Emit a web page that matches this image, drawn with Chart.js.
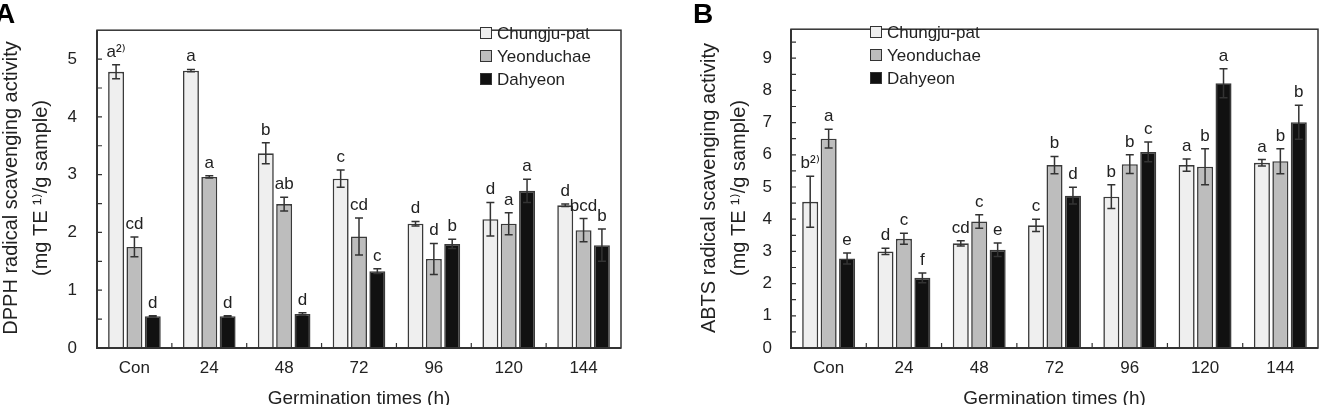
<!DOCTYPE html>
<html>
<head>
<meta charset="utf-8">
<script src="https://cdn.jsdelivr.net/npm/chart.js@4.4.0/dist/chart.umd.min.js"></script>
<style>
body { margin: 0; background: #fff; }
#wrap { position: relative; width: 1327px; height: 405px; overflow: hidden; }
.pane { position: absolute; top: 0; height: 405px; }
</style>
</head>
<body>
<div id="wrap">
  <div class="pane" style="left:0;width:663px"><canvas id="chartA"></canvas></div>
  <div class="pane" style="left:663px;width:664px"><canvas id="chartB"></canvas></div>
</div>
<script>
var horas = ['Con', '24', '48', '72', '96', '120', '144'];
var variedades = ['Chungju-pat', 'Yeonduchae', 'Dahyeon'];

// A - DPPH
var dpphChungju = [4.78, 4.80, 3.37, 2.93, 2.15, 2.23, 2.47];
var dpphChungjuErr = [0.12, 0.02, 0.18, 0.15, 0.04, 0.29, 0.02];
var dpphYeon = [1.75, 2.96, 2.49, 1.93, 1.54, 2.15, 2.04];
var dpphYeonErr = [0.17, 0.02, 0.12, 0.32, 0.27, 0.19, 0.20];
var dpphDah = [0.55, 0.55, 0.59, 1.33, 1.80, 2.72, 1.78];
var dpphDahErr = [0.01, 0.01, 0.02, 0.04, 0.08, 0.20, 0.28];
var dpphLetrasChungju = ['a²⁾', 'a', 'b', 'c', 'd', 'd', 'd'];
var dpphLetrasYeon = ['cd', 'a', 'ab', 'cd', 'd', 'a', 'bcd'];
var dpphLetrasDah = ['d', 'd', 'd', 'c', 'b', 'a', 'b'];
var dpphTicks = [0, 1, 2, 3, 4, 5];

// B - ABTS
var abtsChungju = [4.54, 3.00, 3.25, 3.81, 4.70, 5.68, 5.75];
var abtsChungjuErr = [0.79, 0.10, 0.08, 0.19, 0.37, 0.19, 0.10];
var abtsYeon = [6.50, 3.39, 3.93, 5.68, 5.71, 5.63, 5.80];
var abtsYeonErr = [0.29, 0.17, 0.21, 0.27, 0.29, 0.56, 0.39];
var abtsDah = [2.78, 2.18, 3.05, 4.73, 6.09, 8.22, 7.01];
var abtsDahErr = [0.17, 0.15, 0.21, 0.26, 0.31, 0.45, 0.53];
var abtsLetrasChungju = ['b²⁾', 'd', 'cd', 'c', 'b', 'a', 'a'];
var abtsLetrasYeon = ['a', 'c', 'c', 'b', 'b', 'b', 'b'];
var abtsLetrasDah = ['e', 'f', 'e', 'd', 'c', 'a', 'b'];
var abtsTicks = [0, 1, 2, 3, 4, 5, 6, 7, 8, 9];

var rellenos = ['#efefef', '#bdbdbd', '#111111'];
var fuente = "'Liberation Sans', Arial, 'DejaVu Sans', sans-serif";
var tinta = '#222';

// dibuja barras de error, letras, marco, leyenda y titulos
var extras = {
    id: 'extras',
    afterDraw: function (chart) {
        var c = chart.options.plugins.extras;
        var ctx = chart.ctx;
        var area = chart.chartArea;
        var ys = chart.scales.y;
        var xs = chart.scales.x;
        ctx.save();

        // marco
        ctx.strokeStyle = '#333';
        ctx.lineWidth = 1.5;
        ctx.strokeRect(area.left, area.top, area.right - area.left, area.bottom - area.top);
        ctx.lineWidth = 2;
        ctx.beginPath();
        ctx.moveTo(area.left, area.top);
        ctx.lineTo(area.left, area.bottom);
        ctx.lineTo(area.right, area.bottom);
        ctx.stroke();

        // marcas hacia adentro
        ctx.lineWidth = 1.2;
        ctx.beginPath();
        for (var v = 0; v < ys.max; v += 0.5) {
            var py = ys.getPixelForValue(v);
            ctx.moveTo(area.left, py);
            ctx.lineTo(area.left + 5, py);
        }
        for (var k = 1; k < horas.length; k++) {
            var px = (xs.getPixelForValue(k - 1) + xs.getPixelForValue(k)) / 2;
            ctx.moveTo(px, area.bottom);
            ctx.lineTo(px, area.bottom - 5);
        }
        ctx.stroke();

        // barras de error y letras
        ctx.font = '17px ' + fuente;
        ctx.textAlign = 'center';
        ctx.textBaseline = 'alphabetic';
        chart.data.datasets.forEach(function (ds, i) {
            var meta = chart.getDatasetMeta(i);
            meta.data.forEach(function (bar, j) {
                var yTop = ys.getPixelForValue(ds.data[j] + c.errores[i][j]);
                var yBot = ys.getPixelForValue(ds.data[j] - c.errores[i][j]);
                ctx.strokeStyle = '#333';
                ctx.lineWidth = 1.5;
                ctx.beginPath();
                ctx.moveTo(bar.x, yTop);
                ctx.lineTo(bar.x, yBot);
                ctx.moveTo(bar.x - 4, yTop);
                ctx.lineTo(bar.x + 4, yTop);
                ctx.moveTo(bar.x - 4, yBot);
                ctx.lineTo(bar.x + 4, yBot);
                ctx.stroke();
                ctx.fillStyle = tinta;
                ctx.fillText(c.letras[i][j], bar.x, yTop - 8);
            });
        });

        // leyenda
        ctx.font = '17px ' + fuente;
        ctx.textAlign = 'left';
        ctx.textBaseline = 'middle';
        variedades.forEach(function (nombre, i) {
            var ly = c.leyendaY + i * 23;
            ctx.fillStyle = rellenos[i];
            ctx.fillRect(c.leyendaX, ly - 6, 12, 12);
            ctx.strokeStyle = '#333';
            ctx.lineWidth = 1;
            ctx.strokeRect(c.leyendaX + 0.5, ly - 5.5, 11, 11);
            ctx.fillStyle = tinta;
            ctx.fillText(nombre, c.leyendaX + 17, ly + 1);
        });

        // titulos de ejes
        ctx.font = '19px ' + fuente;
        ctx.textAlign = 'center';
        ctx.textBaseline = 'alphabetic';
        ctx.fillStyle = tinta;
        ctx.fillText('Germination times (h)', (area.left + area.right) / 2, 404);
        ctx.font = '20px ' + fuente;
        ctx.save();
        ctx.translate(c.tituloX, 188);
        ctx.rotate(-Math.PI / 2);
        ctx.fillText(c.tituloY[0], 0, 0);
        ctx.fillText(c.tituloY[1], 0, 30);
        ctx.restore();

        // letra del panel
        ctx.font = 'bold 28px ' + fuente;
        ctx.textAlign = 'left';
        ctx.fillStyle = '#000';
        ctx.fillText(c.panel, c.panelX, 23);

        ctx.restore();
    }
};

function crearGrafica(id, series, errores, letras, ticks, maxY, cfg) {
    var datasets = [];
    for (var i = 0; i < series.length; i++) {
        datasets.push({
            label: variedades[i],
            data: series[i],
            backgroundColor: rellenos[i],
            borderColor: '#3a3a3a',
            borderWidth: 1.6,
            categoryPercentage: 0.735,
            barPercentage: 0.87
        });
    }
    return new Chart(document.getElementById(id).getContext('2d'), {
        type: 'bar',
        data: { labels: horas, datasets: datasets },
        options: {
            responsive: true,
            maintainAspectRatio: false,
            animation: false,
            layout: { padding: { top: 9, right: cfg.derecha, left: 0, bottom: 0 } },
            scales: {
                x: {
                    grid: { display: false, drawTicks: false },
                    border: { display: false },
                    ticks: { color: tinta, font: { family: fuente, size: 17 }, padding: 10 },
                    afterFit: function (s) { s.height = 57; }
                },
                y: {
                    min: 0,
                    max: maxY,
                    grid: { display: false, drawTicks: false },
                    border: { display: false },
                    afterBuildTicks: function (s) {
                        s.ticks = ticks.map(function (t) { return { value: t }; });
                    },
                    ticks: { color: tinta, font: { family: fuente, size: 17 }, padding: cfg.pad },
                    afterFit: function (s) { s.width = cfg.anchoY; }
                }
            },
            plugins: {
                legend: { display: false },
                tooltip: { enabled: false },
                extras: {
                    errores: errores,
                    letras: letras,
                    leyendaX: cfg.leyendaX,
                    leyendaY: cfg.leyendaY,
                    tituloX: cfg.tituloX,
                    tituloY: cfg.tituloY,
                    panel: cfg.panel,
                    panelX: cfg.panelX
                }
            }
        },
        plugins: [extras]
    });
}

crearGrafica('chartA',
    [dpphChungju, dpphYeon, dpphDah],
    [dpphChungjuErr, dpphYeonErr, dpphDahErr],
    [dpphLetrasChungju, dpphLetrasYeon, dpphLetrasDah],
    dpphTicks, 5.5,
    { derecha: 42, anchoY: 97, pad: 20, leyendaX: 480, leyendaY: 33, tituloX: 17,
      tituloY: ['DPPH radical scavenging activity', '(mg TE ¹⁾/g sample)'], panel: 'A', panelX: -5 });

crearGrafica('chartB',
    [abtsChungju, abtsYeon, abtsDah],
    [abtsChungjuErr, abtsYeonErr, abtsDahErr],
    [abtsLetrasChungju, abtsLetrasYeon, abtsLetrasDah],
    abtsTicks, 9.9,
    { derecha: 9, anchoY: 128, pad: 19, leyendaX: 207, leyendaY: 32, tituloX: 52,
      tituloY: ['ABTS radical scavenging activity', '(mg TE ¹⁾/g sample)'], panel: 'B', panelX: 30 });
</script>
</body>
</html>
